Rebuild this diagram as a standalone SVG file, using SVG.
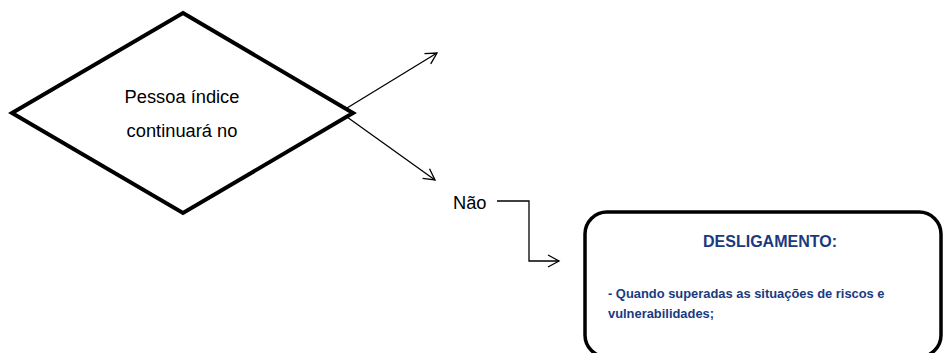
<svg xmlns="http://www.w3.org/2000/svg" width="944" height="353" viewBox="0 0 944 353">
<defs>
<style>
.lbl{font-family:"Liberation Sans",Arial,sans-serif;font-size:18.3px;fill:#000}
.hd{font-family:"Liberation Sans",Arial,sans-serif;font-size:16px;font-weight:bold;fill:#1a3a80}
.bd{font-family:"Liberation Sans",Arial,sans-serif;font-size:12.9px;font-weight:bold;fill:#1a3a80}
.ln{fill:none;stroke:#000;stroke-width:1.3}
</style>
<marker id="ah" markerWidth="14" markerHeight="14" refX="12" refY="7" orient="auto" markerUnits="userSpaceOnUse">
<path d="M1,1 L12,7 L1,13" fill="none" stroke="#000" stroke-width="1.3"/>
</marker>
</defs>
<rect width="944" height="353" fill="#fff"/>
<g id="decision">
<polygon points="183,13 353,113 183,213 12,113" fill="none" stroke="#000" stroke-width="4" stroke-linejoin="miter"/>
<text class="lbl" x="182" y="103" text-anchor="middle">Pessoa índice</text>
<text class="lbl" x="182" y="137" text-anchor="middle">continuará no</text>
</g>
<g id="nao">
<text class="lbl" x="453" y="209">Não</text>
</g>
<g id="desligamento">
<rect x="585" y="212" width="356" height="145" rx="22" ry="22" fill="#fff" stroke="#000" stroke-width="3.5"/>
<text class="hd" x="770" y="247" text-anchor="middle">DESLIGAMENTO:</text>
<text class="bd" x="608" y="298">- Quando superadas as situações de riscos e</text>
<text class="bd" x="608" y="318">vulnerabilidades;</text>
</g>
<g id="connectors">
<line class="ln" x1="347" y1="108" x2="437" y2="53" marker-end="url(#ah)"/>
<line class="ln" x1="347" y1="117" x2="435" y2="180" marker-end="url(#ah)"/>
<polyline class="ln" points="497,201 529,201 529,261 559,261" marker-end="url(#ah)"/>
</g>
</svg>
